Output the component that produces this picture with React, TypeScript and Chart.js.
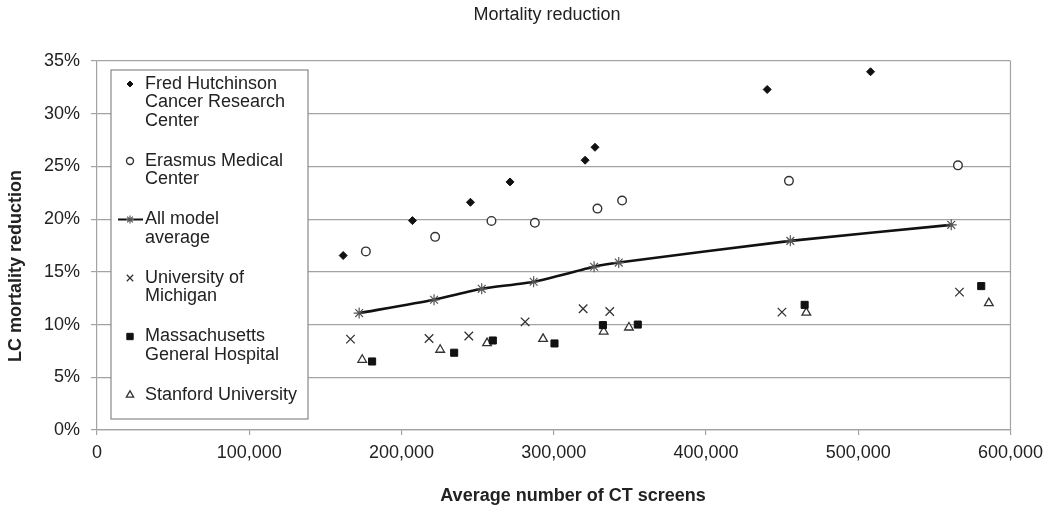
import { useEffect, useRef } from "react";
import { Chart, registerables } from "chart.js";
import { drawPoint } from "chart.js/helpers";

Chart.register(...registerables);

// average number of CT screens (x) and LC mortality reduction in % (y), one pair per model
const fredX = [161700, 207200, 245300, 271300, 320600, 327100, 440200, 508100];
const fredY = [16.55, 19.86, 21.6, 23.53, 25.59, 26.82, 32.3, 33.98];

const erasmusX = [176600, 222100, 259100, 287600, 328700, 344900, 454500, 565500];
const erasmusY = [16.94, 18.32, 19.83, 19.65, 21.0, 21.76, 23.63, 25.1];

const averageX = [172200, 221400, 252700, 286800, 326500, 342700, 455400, 561100];
const averageY = [11.09, 12.35, 13.39, 14.06, 15.48, 15.88, 17.94, 19.46];

const michiganX = [166500, 218100, 244200, 281200, 319300, 336800, 449900, 566500];
const michiganY = [8.62, 8.68, 8.91, 10.26, 11.5, 11.24, 11.18, 13.08];

const mghX = [180700, 234600, 260000, 300500, 332300, 355200, 464800, 580800];
const mghY = [6.5, 7.33, 8.49, 8.21, 9.95, 10.0, 11.87, 13.65];

const stanfordX = [174200, 225400, 256200, 293000, 332800, 349400, 465900, 585800];
const stanfordY = [6.66, 7.61, 8.24, 8.65, 9.34, 9.72, 11.14, 12.04];

const seriesNames = [
  "Fred Hutchinson Cancer Research Center",
  "Erasmus Medical Center",
  "All model average",
  "University of Michigan",
  "Massachusetts General Hospital",
  "Stanford University",
];

// legend text, wrapped as in the original
const legendLines = [
  ["Fred Hutchinson", "Cancer Research", "Center"],
  ["Erasmus Medical", "Center"],
  ["All model", "average"],
  ["University of", "Michigan"],
  ["Massachusetts", "General Hospital"],
  ["Stanford University"],
];

const xTickLabels = ["0", "100,000", "200,000", "300,000", "400,000", "500,000", "600,000"];
const yTickLabels = ["0%", "5%", "10%", "15%", "20%", "25%", "30%", "35%"];

const chartTitle = "Mortality reduction";
const xTitle = "Average number of CT screens";
const yTitle = "LC mortality reduction";

const FONT = '"Liberation Sans", Arial, sans-serif';
const TEXT = "#222";
const GRID = "#a3a3a3";

const zip = (xs: number[], ys: number[]) => xs.map((x, i) => ({ x, y: ys[i] }));

// marker sizes used inside the legend box
const legendRadius = [3, 3.5, 4, 4.5, 4.5, 4.2];

const overlayPlugin = {
  id: "overlay",
  afterDraw(chart: any) {
    const { ctx, chartArea: a } = chart;
    ctx.save();

    // plot frame on the right
    ctx.strokeStyle = GRID;
    ctx.lineWidth = 1.2;
    ctx.beginPath();
    ctx.moveTo(a.right, a.top);
    ctx.lineTo(a.right, a.bottom);
    ctx.stroke();

    // legend box
    const bx = a.left + 14;
    const by = a.top + 9;
    const bw = 197;
    const bh = 349;
    ctx.fillStyle = "#fff";
    ctx.fillRect(bx, by, bw, bh);
    ctx.strokeStyle = "#888";
    ctx.lineWidth = 1.2;
    ctx.strokeRect(bx, by, bw, bh);

    const lineH = 18.5;
    const gap = 21.5;
    const markX = bx + 19;
    const textX = bx + 34;
    let y = a.top + 23;
    ctx.font = `18px ${FONT}`;
    ctx.textBaseline = "middle";
    ctx.textAlign = "left";

    legendLines.forEach((lines, i) => {
      const ds = chart.data.datasets[i];
      if (ds.showLine) {
        ctx.strokeStyle = ds.borderColor;
        ctx.lineWidth = 2;
        ctx.beginPath();
        ctx.moveTo(bx + 7, y);
        ctx.lineTo(bx + 32, y);
        ctx.stroke();
      }
      ctx.fillStyle = ds.pointBackgroundColor;
      ctx.strokeStyle = ds.pointBorderColor;
      ctx.lineWidth = ds.pointBorderWidth;
      drawPoint(
        ctx,
        { pointStyle: ds.pointStyle, radius: legendRadius[i], rotation: 0, borderWidth: ds.pointBorderWidth },
        markX,
        y
      );
      ctx.fillStyle = TEXT;
      lines.forEach((t, j) => ctx.fillText(t, textX, y + j * lineH));
      y += lines.length * lineH + gap;
    });

    // titles
    ctx.fillStyle = TEXT;
    ctx.textAlign = "center";
    ctx.font = `18px ${FONT}`;
    ctx.fillText(chartTitle, 547, 15);
    ctx.font = `bold 18px ${FONT}`;
    ctx.fillText(xTitle, 573, 496);
    ctx.translate(16, 266);
    ctx.rotate(-Math.PI / 2);
    ctx.fillText(yTitle, 0, 0);

    ctx.restore();
  },
};

export default function App() {
  const canvasRef = useRef<HTMLCanvasElement>(null);
  const chartRef = useRef<Chart | null>(null);

  useEffect(() => {
    if (!canvasRef.current) return;
    if (chartRef.current) chartRef.current.destroy();

    const ctx = canvasRef.current.getContext("2d");
    if (!ctx) return;

    chartRef.current = new Chart(ctx, {
      type: "scatter",
      data: {
        datasets: [
          {
            label: seriesNames[0],
            data: zip(fredX, fredY),
            pointStyle: "rectRot",
            pointRadius: 4,
            pointBackgroundColor: "#111",
            pointBorderColor: "#111",
            pointBorderWidth: 1,
          },
          {
            label: seriesNames[1],
            data: zip(erasmusX, erasmusY),
            pointStyle: "circle",
            pointRadius: 4.3,
            pointBackgroundColor: "#fff",
            pointBorderColor: "#333",
            pointBorderWidth: 1.4,
          },
          {
            label: seriesNames[2],
            data: zip(averageX, averageY),
            showLine: true,
            borderColor: "#111",
            borderWidth: 2.6,
            tension: 0.2,
            pointStyle: "star",
            pointRadius: 5.5,
            pointBackgroundColor: "#555",
            pointBorderColor: "#555",
            pointBorderWidth: 1.2,
          },
          {
            label: seriesNames[3],
            data: zip(michiganX, michiganY),
            pointStyle: "crossRot",
            pointRadius: 6,
            pointBackgroundColor: "#333",
            pointBorderColor: "#333",
            pointBorderWidth: 1.3,
          },
          {
            label: seriesNames[4],
            data: zip(mghX, mghY),
            pointStyle: "rect",
            pointRadius: 5,
            pointBackgroundColor: "#111",
            pointBorderColor: "#111",
            pointBorderWidth: 1,
          },
          {
            label: seriesNames[5],
            data: zip(stanfordX, stanfordY),
            pointStyle: "triangle",
            pointRadius: 5,
            pointBackgroundColor: "#fff",
            pointBorderColor: "#333",
            pointBorderWidth: 1.3,
          },
        ] as any,
      },
      options: {
        responsive: true,
        maintainAspectRatio: false,
        animation: false,
        layout: { padding: { top: 61, right: 39, bottom: 0, left: 0 } },
        plugins: {
          legend: { display: false },
          title: { display: false },
          tooltip: { enabled: false },
        },
        scales: {
          x: {
            type: "linear",
            min: 0,
            max: 600000,
            afterFit: (s: any) => {
              s.height = 82;
            },
            border: { display: true, color: GRID, width: 1.2 },
            grid: { drawOnChartArea: false, drawTicks: true, tickLength: 5, color: GRID, lineWidth: 1.2 },
            ticks: {
              stepSize: 100000,
              padding: 7,
              color: TEXT,
              font: { family: FONT, size: 18 },
              maxRotation: 0,
              callback: (_v: any, i: number) => xTickLabels[i],
            },
          },
          y: {
            type: "linear",
            min: 0,
            max: 35,
            afterFit: (s: any) => {
              s.width = 97;
            },
            border: { display: true, color: GRID, width: 1.2 },
            grid: { color: GRID, lineWidth: 1.2, tickLength: 6 },
            ticks: {
              stepSize: 5,
              padding: 11,
              color: TEXT,
              font: { family: FONT, size: 18 },
              callback: (_v: any, i: number) => yTickLabels[i],
            },
          },
        },
      },
      plugins: [overlayPlugin],
    });

    return () => {
      if (chartRef.current) {
        chartRef.current.destroy();
        chartRef.current = null;
      }
    };
  }, []);

  return (
    <div style={{ position: "fixed", left: 0, top: 0, width: 1050, height: 512, background: "#fff" }}>
      <canvas ref={canvasRef} />
    </div>
  );
}
